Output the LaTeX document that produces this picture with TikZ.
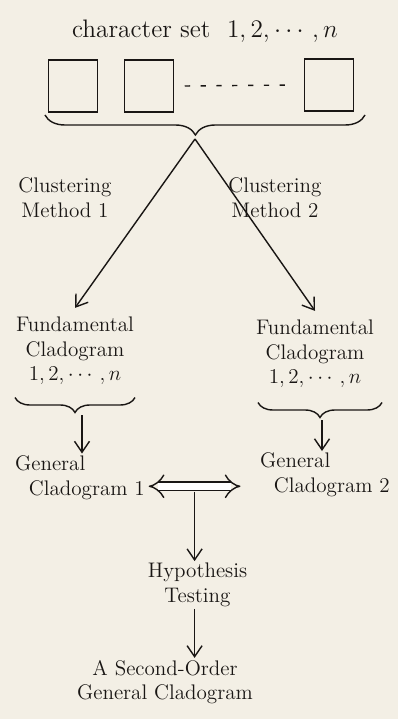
\documentclass[tikz,border=0pt]{standalone}
\usepackage{amsmath}
\usepackage{amssymb}
\usepackage[dvipsnames]{xcolor}
\usepackage{tikz}
\usetikzlibrary{decorations.pathreplacing,arrows.meta}

\definecolor{papel}{RGB}{243,239,229}
\definecolor{tinta}{RGB}{25,22,20}

\begin{document}
\begin{tikzpicture}[scale=1,
    txt/.style={font=\large, text=tinta, align=center, inner sep=1pt},
    caixa/.style={draw=tinta, thick, minimum width=0.98cm, minimum height=1.04cm},
    seta/.style={draw=tinta, thick, -{Straight Barb[length=2.2mm, width=3mm]}},
    chave/.style={draw=tinta, thick, decorate, decoration={brace, mirror, amplitude=#1}}]
    % fundo de papel
    \fill[papel] (0,0) rectangle (7.96,-14.38);
    \useasboundingbox (0,0) rectangle (7.96,-14.38);
    % titulo com caixas dos caracteres
    \node[txt, font=\Large] (titulo) at (4.1,-0.62) {character set \ $1,2,\cdots,n$};
    \node[caixa] (c1) at (1.46,-1.72) {};
    \node[caixa] (c2) at (2.98,-1.72) {};
    \node[caixa] (cn) at (6.58,-1.70) {};
    \draw[tinta, thick, dash pattern=on 3pt off 6pt] ([xshift=6pt]c2.east) -- ([xshift=-6pt]cn.west);
    % chave grande
    \draw[chave=0.4cm, decoration={aspect=0.47}] (0.9,-2.3) -- (7.3,-2.3);
    \coordinate (ponta) at (3.9,-2.78);
    % metodos de agrupamento
    \node[txt] (m1) at (1.3,-3.95) {Clustering\\Method 1};
    \node[txt] (m2) at (5.5,-3.95) {Clustering\\Method 2};
    \node[txt] (f1) at (1.5,-7.02) {Fundamental\\Cladogram\\$1,2,\cdots,n$};
    \node[txt] (f2) at (6.3,-7.08) {Fundamental\\Cladogram\\$1,2,\cdots,n$};
    \draw[seta] (ponta) -- ([yshift=4pt]f1.north);
    \draw[seta] (ponta) -- ([yshift=4pt]f2.north);
    % chaves pequenas
    \draw[chave=0.3cm] (0.3,-7.95) -- (2.7,-7.95);
    \draw[chave=0.3cm] (5.16,-8.05) -- (7.64,-8.05);
    \coordinate (p1) at (1.64,-8.3);
    \coordinate (p2) at (6.44,-8.4);
    % cladogramas gerais
    \node[txt, align=left] (g1) at (1.6,-9.55) {General\\\ \ Cladogram 1};
    \node[txt, align=left] (g2) at (6.5,-9.5) {General\\\ \ Cladogram 2};
    \draw[seta] (p1) -- (p1 |- g1.north);
    \draw[seta] (p2) -- (p2 |- g2.north);
    % seta dupla
    \path ([xshift=1pt,yshift=-5pt]g1.east) coordinate (e1);
    \draw[tinta, thick, double, double distance=4pt, {Implies[length=2.5mm]}-{Implies[length=2.5mm]}]
      (e1) -- ([xshift=-10pt]g2.west |- e1) coordinate[midway] (meio);
    % teste de hipoteses
    \node[txt] (h) at (3.95,-11.7) {Hypothesis\\Testing};
    \node[txt] (s) at (3.3,-13.64) {A Second-Order\\General Cladogram};
    \draw[seta] ([yshift=-3pt]meio) -- (meio |- h.north);
    \draw[seta] (h.south -| meio) -- (meio |- s.north);
\end{tikzpicture}
\end{document}
